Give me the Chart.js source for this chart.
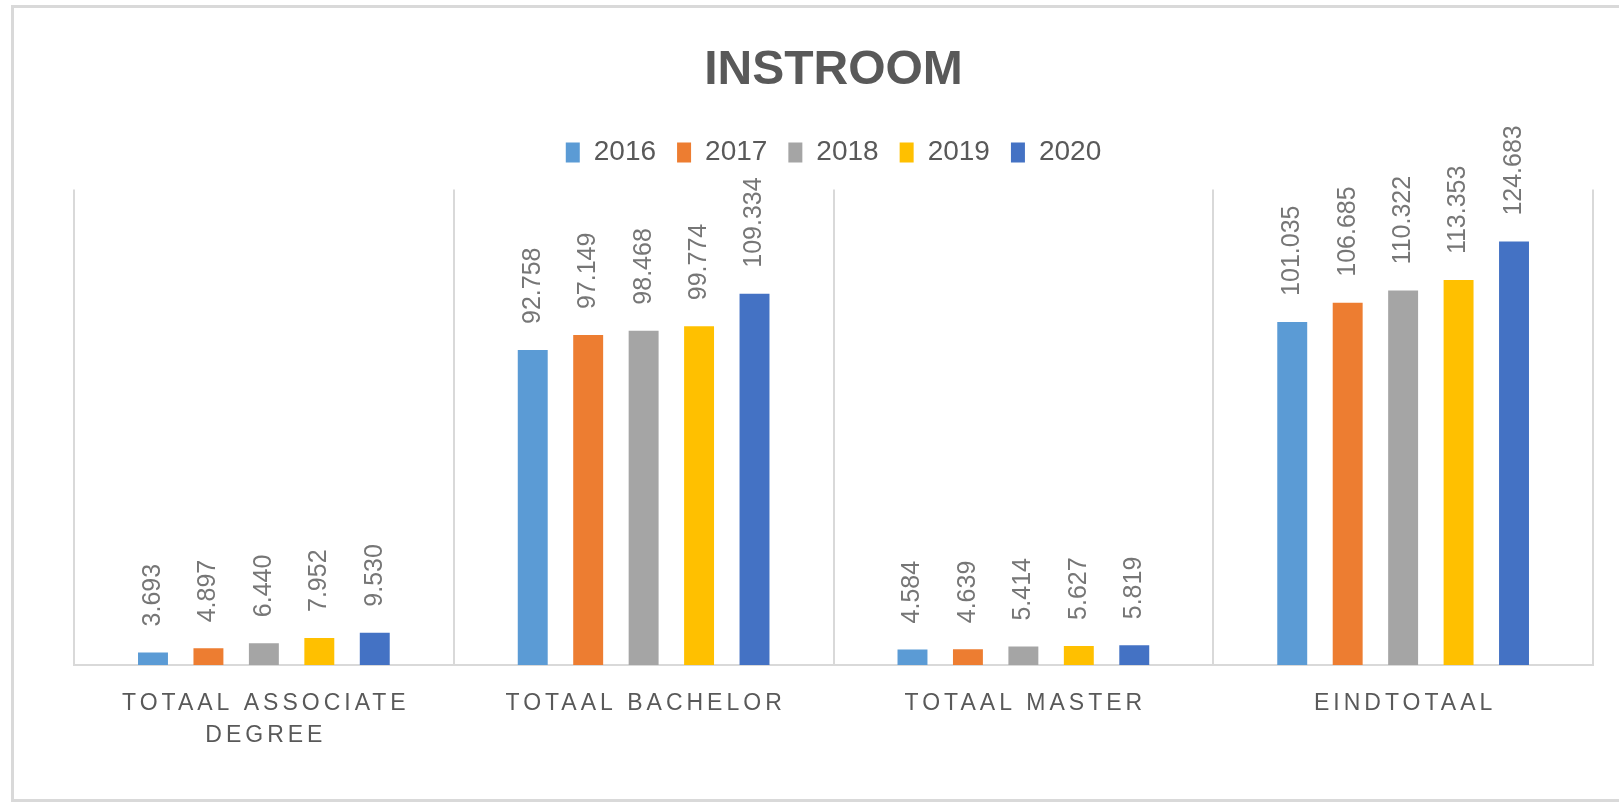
<!DOCTYPE html>
<html>
<head>
<meta charset="utf-8">
<script src="https://cdn.jsdelivr.net/npm/chart.js@4.4.1/dist/chart.umd.min.js"></script>
<style>
  html, body { margin: 0; padding: 0; background: #fff; }
  #wrap { position: relative; width: 1619px; height: 802px; }
  #frame {
    position: absolute; left: 11px; top: 5px; width: 1620px; height: 791px;
    border: 3px solid #d9d9d9; border-right: none; pointer-events: none;
  }
</style>
</head>
<body>
<div id="wrap">
  <canvas id="chart"></canvas>
  <div id="frame"></div>
</div>
<script>
// categories (multi-line where the original wraps)
const categories = [['TOTAAL ASSOCIATE', 'DEGREE'], 'TOTAAL BACHELOR', 'TOTAAL MASTER', 'EINDTOTAAL'];
const years = ['2016', '2017', '2018', '2019', '2020'];
const colors = ['#5B9BD5', '#ED7D31', '#A5A5A5', '#FFC000', '#4472C4'];

// one array per year: associate, bachelor, master, total
const values2016 = [3693, 92758, 4584, 101035];
const values2017 = [4897, 97149, 4639, 106685];
const values2018 = [6440, 98468, 5414, 110322];
const values2019 = [7952, 99774, 5627, 113353];
const values2020 = [9530, 109334, 5819, 124683];
const series = [values2016, values2017, values2018, values2019, values2020];

// 3693 -> "3.693"
const fmt = (v) => String(v).replace(/\B(?=(\d{3})+(?!\d))/g, '.');

const valueLabels = {
  id: 'valueLabels',
  afterDatasetsDraw(chart) {
    const ctx = chart.ctx;
    ctx.save();
    ctx.font = '25px "Liberation Sans", Arial, sans-serif';
    ctx.fillStyle = '#767676';
    ctx.textAlign = 'left';
    ctx.textBaseline = 'middle';
    chart.data.datasets.forEach((ds, di) => {
      chart.getDatasetMeta(di).data.forEach((bar, i) => {
        ctx.save();
        ctx.translate(bar.x, bar.y - 26);
        ctx.rotate(-Math.PI / 2);
        ctx.fillText(fmt(ds.data[i]), 0, 0);
        ctx.restore();
      });
    });
    ctx.restore();
  }
};

// category labels with wide letter spacing like the original
const spacedTicks = {
  id: 'spacedTicks',
  afterDraw(chart) {
    const ctx = chart.ctx;
    const xs = chart.scales.x;
    const base = chart.chartArea.bottom;
    ctx.save();
    ctx.font = '23px "Liberation Sans", Arial, sans-serif';
    ctx.fillStyle = '#595959';
    ctx.textAlign = 'center';
    ctx.textBaseline = 'middle';
    ctx.letterSpacing = '4px';
    chart.data.labels.forEach((lab, i) => {
      const lines = Array.isArray(lab) ? lab : [lab];
      const x = xs.getPixelForValue(i) + 2;
      lines.forEach((line, k) => {
        ctx.fillText(line, x, base + 39 + k * 32);
      });
    });
    ctx.restore();
  }
};

// extra room between legend and plot
const legendGap = {
  id: 'legendGap',
  beforeInit(chart) {
    const orig = chart.legend.fit;
    chart.legend.fit = function () {
      orig.bind(chart.legend)();
      this.height += 13;
    };
  }
};

new Chart(document.getElementById('chart'), {
  type: 'bar',
  data: {
    labels: categories,
    datasets: years.map((y, i) => ({
      label: y,
      data: series[i],
      backgroundColor: colors[i],
      categoryPercentage: 0.73,
      barPercentage: 0.54
    }))
  },
  options: {
    responsive: true,
    maintainAspectRatio: false,
    animation: false,
    layout: { padding: { top: 10, left: 74, right: 26, bottom: 137 } },
    plugins: {
      title: {
        display: true,
        text: 'INSTROOM',
        color: '#595959',
        font: { family: '"Liberation Sans", Arial, sans-serif', size: 48, weight: 'bold' },
        padding: { top: 32, bottom: 18 }
      },
      legend: {
        position: 'top',
        labels: {
          boxWidth: 14,
          boxHeight: 20,
          padding: 21,
          color: '#595959',
          font: { family: '"Liberation Sans", Arial, sans-serif', size: 28 }
        }
      },
      tooltip: { enabled: false }
    },
    scales: {
      x: {
        grid: { color: '#d9d9d9', lineWidth: 2, drawTicks: false, offset: true },
        border: { color: '#d9d9d9', width: 2 },
        ticks: { display: false }
      },
      y: {
        display: false,
        min: 0,
        max: 140000
      }
    }
  },
  plugins: [legendGap, valueLabels, spacedTicks]
});
</script>
</body>
</html>
